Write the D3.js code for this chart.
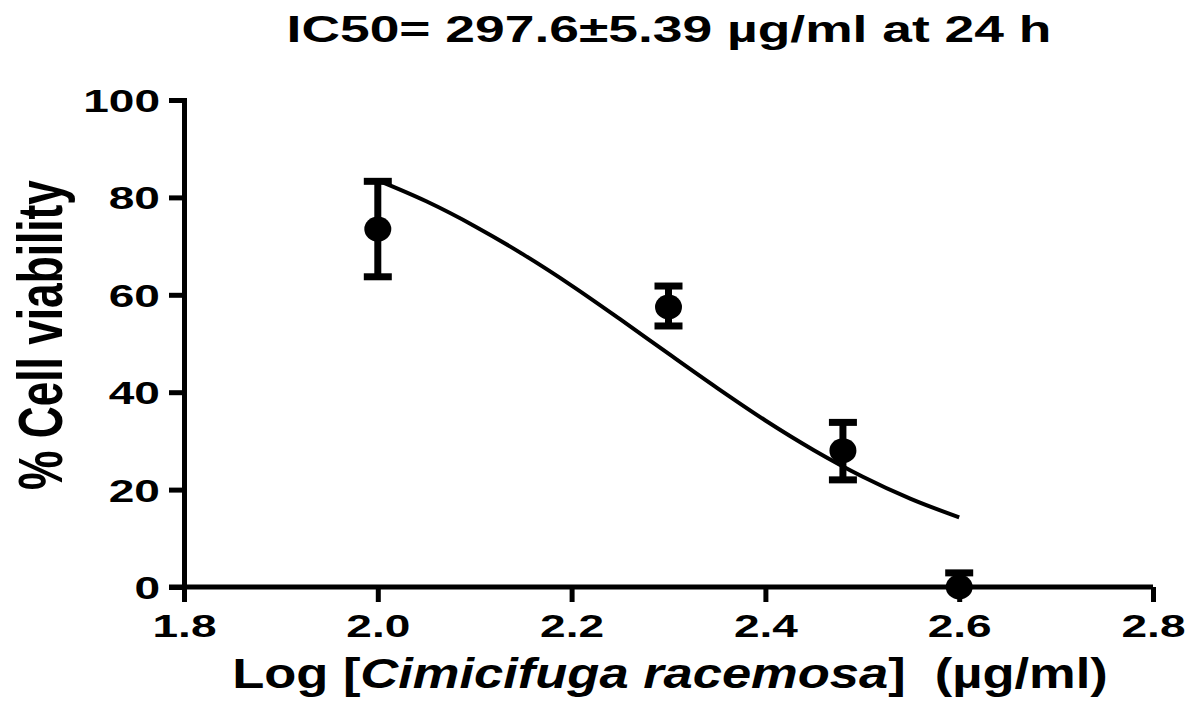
<!DOCTYPE html>
<html>
<head>
<meta charset="utf-8">
<script src="https://cdn.jsdelivr.net/npm/d3@7"></script>
<style>
	body { margin: 0; background: #fff; }
	text { font-family: "Liberation Sans", Arial, sans-serif; font-weight: bold; fill: #000; white-space: pre; }
</style>
</head>
<body>
<svg id="chart" width="1197" height="706"></svg>
<script>
//Data
const LOG_CONC = [2.0, 2.3, 2.48, 2.6];
const VIABILITY = [73.5, 57.5, 28.0, 0.0];
const ERR_LOW = [63.7, 53.6, 22.0, -2.5];
const ERR_HIGH = [83.3, 61.8, 33.8, 2.9];

// fitted curve
const CURVE_X = [2.0, 2.05, 2.1, 2.15, 2.2, 2.25, 2.3, 2.35, 2.4, 2.45, 2.5, 2.55, 2.6];
const CURVE_Y = [83.5, 79.2, 74.1, 68.3, 61.9, 55.0, 47.9, 40.9, 34.2, 28.1, 22.7, 18.1, 14.3];

const X_TICKS = [1.8, 2.0, 2.2, 2.4, 2.6, 2.8];
const Y_TICKS = [0, 20, 40, 60, 80, 100];

const TITLE = "IC50= 297.6\u00b15.39 \u00b5g/ml at 24 h";

const svg = d3.select("#chart");
const plotLeft = 184, plotRight = 1153, plotTop = 100, plotBottom = 587;
const STRETCH = 1.44; // text in the picture is wider than normal

const xScale = d3.scaleLinear().domain([1.8, 2.8]).range([plotLeft, plotRight]);
const yScale = d3.scaleLinear().domain([0, 100]).range([plotBottom, plotTop]);

// stretch a text along its length so it spans the wanted width
function fitWidth(sel, cx, cy, width, extra) {
	const w = sel.node().getComputedTextLength();
	sel.attr("transform", "translate(" + cx + "," + cy + ")" + (extra || "") + " scale(" + (width / w) + ",1)");
}

// title
const title = svg.append("text")
	.attr("text-anchor", "middle")
	.attr("font-size", "37px")
	.text(TITLE);
fitWidth(title, 669, 42, 765);

// axes
const xAxis = svg.append("g")
	.attr("transform", "translate(0," + plotBottom + ")")
	.call(d3.axisBottom(xScale).tickValues(X_TICKS).tickFormat(d3.format(".1f")).tickSize(15).tickPadding(8));

const yAxis = svg.append("g")
	.attr("transform", "translate(" + plotLeft + ",0)")
	.call(d3.axisLeft(yScale).tickValues(Y_TICKS).tickSize(15));

[xAxis, yAxis].forEach(function (g) {
	g.select(".domain").attr("stroke", "#000").attr("stroke-width", 5);
	g.selectAll(".tick line").attr("stroke", "#000").attr("stroke-width", 5);
	g.selectAll(".tick text")
		.attr("font-size", "32px")
		.attr("font-family", "Liberation Sans, Arial, sans-serif")
		.attr("font-weight", "bold")
		.attr("fill", "#000")
		.attr("transform", "scale(" + STRETCH + ",1)");
});
xAxis.select(".domain").attr("d", "M" + (plotLeft - 15) + ",0H" + plotRight);
xAxis.selectAll(".tick text").attr("dy", "0.85em");
yAxis.selectAll(".tick text").attr("dy", "0.36em").attr("x", -24 / STRETCH);

// axis labels
const xLabel = svg.append("text")
	.attr("text-anchor", "middle")
	.attr("font-size", "42px");
xLabel.append("tspan").text("Log [");
xLabel.append("tspan").attr("font-style", "italic").text("Cimicifuga racemosa");
xLabel.append("tspan").text("]  (\u00b5g/ml)");
fitWidth(xLabel, 670, 688, 876);

// y label: rotated, so the picture's horizontal stretch makes it look tall and narrow
const yLabel = svg.append("text")
	.attr("text-anchor", "middle")
	.attr("font-size", "44px")
	.text("% Cell viability");
fitWidth(yLabel, 62, 335, 310, " scale(" + STRETCH + ",1) rotate(-90)");

// fitted curve
const curveData = CURVE_X.map(function (x, i) { return { x: x, y: CURVE_Y[i] }; });
const line = d3.line()
	.x(function (d) { return xScale(d.x); })
	.y(function (d) { return yScale(d.y); })
	.curve(d3.curveMonotoneX);

svg.append("path")
	.datum(curveData)
	.attr("d", line)
	.attr("fill", "none")
	.attr("stroke", "#000")
	.attr("stroke-width", 4);

// points with error bars
const points = LOG_CONC.map(function (x, i) {
	return { x: x, y: VIABILITY[i], lo: Math.max(0, ERR_LOW[i]), hi: ERR_HIGH[i], clipped: ERR_LOW[i] < 0 };
});

const pg = svg.append("g");
const capW = 14;

pg.selectAll(".err")
	.data(points)
	.enter().append("line")
	.attr("x1", function (d) { return xScale(d.x); })
	.attr("x2", function (d) { return xScale(d.x); })
	.attr("y1", function (d) { return yScale(d.lo); })
	.attr("y2", function (d) { return yScale(d.hi); })
	.attr("stroke", "#000")
	.attr("stroke-width", 7);

pg.selectAll(".capHi")
	.data(points)
	.enter().append("line")
	.attr("x1", function (d) { return xScale(d.x) - capW; })
	.attr("x2", function (d) { return xScale(d.x) + capW; })
	.attr("y1", function (d) { return yScale(d.hi); })
	.attr("y2", function (d) { return yScale(d.hi); })
	.attr("stroke", "#000")
	.attr("stroke-width", 7);

pg.selectAll(".capLo")
	.data(points.filter(function (d) { return !d.clipped; }))
	.enter().append("line")
	.attr("x1", function (d) { return xScale(d.x) - capW; })
	.attr("x2", function (d) { return xScale(d.x) + capW; })
	.attr("y1", function (d) { return yScale(d.lo); })
	.attr("y2", function (d) { return yScale(d.lo); })
	.attr("stroke", "#000")
	.attr("stroke-width", 7);

pg.selectAll(".dot")
	.data(points)
	.enter().append("ellipse")
	.attr("cx", function (d) { return xScale(d.x); })
	.attr("cy", function (d) { return yScale(d.y); })
	.attr("rx", 13.5)
	.attr("ry", 12.5)
	.attr("fill", "#000");
</script>
</body>
</html>
